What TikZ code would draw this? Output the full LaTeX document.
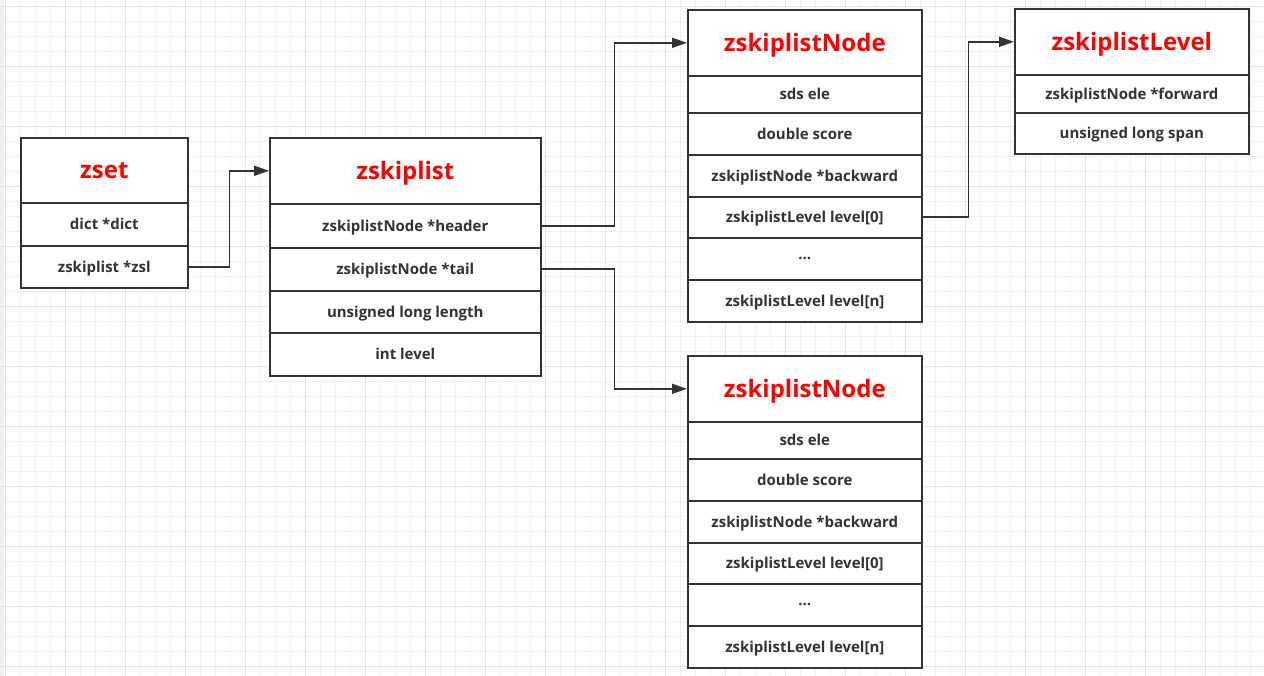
\documentclass[tikz,border=0pt]{standalone}
\usepackage{fontspec}
\setmainfont{Open Sans}
\usetikzlibrary{arrows.meta}
\definecolor{ink}{HTML}{333333}
\definecolor{gridminor}{HTML}{F0F0F0}
\definecolor{gridmajor}{HTML}{E2E2E2}
\definecolor{titlered}{HTML}{FF0000}
\tikzset{
  cell/.style={draw=ink, line width=1.6pt, fill=white, inner sep=0pt, anchor=north west,
    text=ink, font=\fontsize{15}{17}\selectfont\bfseries, text depth=0.5pt},
  titlecell/.style={cell, text=titlered, font=\fontsize{24}{28}\selectfont\bfseries, text depth=0pt},
  conn/.style={draw=ink, line width=1.6pt, -{Triangle[length=15pt,width=10pt]}},
}
\begin{document}
\begin{tikzpicture}[x=1pt,y=-1pt]
\useasboundingbox (0,0) rectangle (1264,676);
\fill[white] (0,0) rectangle (1264,676);
\fill[gridminor] (0,0) rectangle (4,676);
% grid
\foreach \k in {0,...,84} { \draw[gridminor, line width=1pt] ({5+15*\k},0) -- ({5+15*\k},676); }
\foreach \k in {0,...,44} { \draw[gridminor, line width=1pt] (0,{6.7+15*\k}) -- (1264,{6.7+15*\k}); }
\foreach \k in {0,...,21} { \draw[gridmajor, line width=1pt] ({5+60*\k},0) -- ({5+60*\k},676); }
\foreach \k in {0,...,11} { \draw[gridmajor, line width=1pt] (0,{6.7+60*\k}) -- (1264,{6.7+60*\k}); }

% zset
\node[titlecell, minimum width=167pt, minimum height=65pt] (zset) at (20,137) {zset};
\node[cell, minimum width=167pt, minimum height=43pt] (dict) at (20,202) {dict *dict};
\node[cell, minimum width=167pt, minimum height=42pt] (zsl) at (20,245) {zskiplist *zsl};

% zskiplist
\node[titlecell, minimum width=271pt, minimum height=66pt] (sl) at (269,137) {zskiplist};
\node[cell, minimum width=271pt, minimum height=44pt] (header) at (269,203) {zskiplistNode *header};
\node[cell, minimum width=271pt, minimum height=43pt] (tail) at (269,247) {zskiplistNode *tail};
\node[cell, minimum width=271pt, minimum height=42pt] (length) at (269,290) {unsigned long length};
\node[cell, minimum width=271pt, minimum height=43pt] (lvl) at (269,332) {int level};

% zskiplistNode 1
\node[titlecell, minimum width=234pt, minimum height=66pt] (na) at (687,9) {zskiplistNode};
\node[cell, minimum width=234pt, minimum height=37pt] (naele) at (687,75) {sds ele};
\node[cell, minimum width=234pt, minimum height=42pt] (nascore) at (687,112) {double score};
\node[cell, minimum width=234pt, minimum height=42pt] (naback) at (687,154) {zskiplistNode *backward};
\node[cell, minimum width=234pt, minimum height=41pt] (nalz) at (687,196) {zskiplistLevel level[0]};
\node[cell, minimum width=234pt, minimum height=42pt] (nadots) at (687,237) {...};
\node[cell, minimum width=234pt, minimum height=42pt] (naln) at (687,279) {zskiplistLevel level[n]};

% zskiplistNode 2
\node[titlecell, minimum width=234pt, minimum height=66pt] (nb) at (687,355) {zskiplistNode};
\node[cell, minimum width=234pt, minimum height=37pt] (nbele) at (687,421) {sds ele};
\node[cell, minimum width=234pt, minimum height=42pt] (nbscore) at (687,458) {double score};
\node[cell, minimum width=234pt, minimum height=42pt] (nbback) at (687,500) {zskiplistNode *backward};
\node[cell, minimum width=234pt, minimum height=41pt] (nblz) at (687,542) {zskiplistLevel level[0]};
\node[cell, minimum width=234pt, minimum height=42pt] (nbdots) at (687,583) {...};
\node[cell, minimum width=234pt, minimum height=42pt] (nbln) at (687,625) {zskiplistLevel level[n]};

% zskiplistLevel
\node[titlecell, minimum width=234pt, minimum height=66pt] (lv) at (1014,8) {zskiplistLevel};
\node[cell, minimum width=234pt, minimum height=38pt] (lvfwd) at (1014,74) {zskiplistNode *forward};
\node[cell, minimum width=234pt, minimum height=41pt] (lvspan) at (1014,112) {unsigned long span};

% connectors
\draw[conn] (zsl.east) -- ++(41,0) |- (sl.west);
\draw[conn] (header.east) -- ++(73,0) |- (na.west);
\draw[conn] (tail.east) -- ++(73,0) |- (nb.west);
\draw[conn] (nalz.east) -- ++(46,0) |- (lv.west);
\end{tikzpicture}
\end{document}
